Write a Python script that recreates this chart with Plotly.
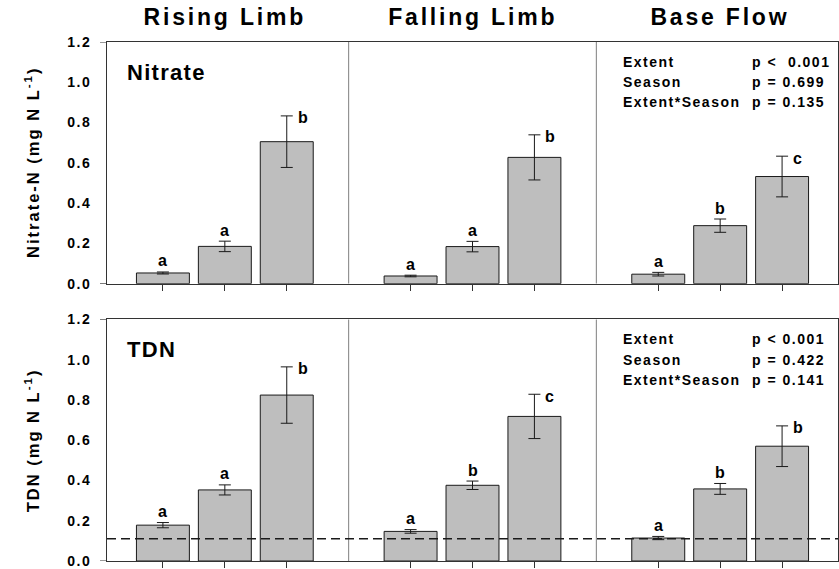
import plotly.graph_objects as go

# ---- data ----
groups = ["Rising Limb", "Falling Limb", "Base Flow"]
positions = [0, 1, 2, 4, 5, 6, 8, 9, 10]
group_centers = [1, 5, 9]
separators = [3, 7]

nitrate_mean = [0.053, 0.185, 0.705, 0.038, 0.184, 0.627, 0.047, 0.288, 0.532]
nitrate_err = [0.005, 0.026, 0.128, 0.004, 0.026, 0.112, 0.009, 0.033, 0.101]
nitrate_letters = ["a", "a", "b", "a", "a", "b", "a", "b", "c"]

tdn_mean = [0.178, 0.353, 0.824, 0.147, 0.376, 0.718, 0.114, 0.358, 0.570]
tdn_err = [0.013, 0.025, 0.140, 0.009, 0.021, 0.110, 0.008, 0.027, 0.101]
tdn_letters = ["a", "a", "b", "a", "b", "c", "a", "b", "b"]

tdn_reference = 0.111

nitrate_stats = [("Extent", "p <\u00a0\u00a00.001"), ("Season", "p = 0.699"), ("Extent*Season", "p = 0.135")]
tdn_stats = [("Extent", "p < 0.001"), ("Season", "p = 0.422"), ("Extent*Season", "p = 0.141")]
stat_rows_y = [1.10, 1.00, 0.90]

y_ticks = [0.0, 0.2, 0.4, 0.6, 0.8, 1.0, 1.2]

FONT = "Liberation Sans, Arial, sans-serif"
BAR = "#bebebe"
DARK = "#1a1a1a"
AX = "#333333"

fig = go.Figure()

panels = [
    ("x", "y", nitrate_mean, nitrate_err, nitrate_letters, nitrate_stats, "Nitrate", "y domain"),
    ("x2", "y2", tdn_mean, tdn_err, tdn_letters, tdn_stats, "TDN", "y2 domain"),
]

for xref, ya, mean, err, letters, stats, label, ydom in panels:
    fig.add_trace(go.Bar(
        x=positions, y=mean, xaxis=xref, yaxis=ya, width=0.855,
        marker=dict(color=BAR, line=dict(color=DARK, width=1)),
        error_y=dict(type="data", array=err, visible=True, color=DARK, thickness=1, width=6),
        showlegend=False, hoverinfo="skip",
    ))
    # significance letters
    for i, (p, m, e, L) in enumerate(zip(positions, mean, err, letters)):
        if i % 3 == 2:
            fig.add_annotation(x=p, y=m + e, xref=xref, yref=ya, text=L, showarrow=False,
                               xanchor="left", yanchor="middle", align="left", xshift=9, yshift=-2,
                               font=dict(family=FONT, size=16, color="black", weight="bold"))
        else:
            fig.add_annotation(x=p, y=m + e, xref=xref, yref=ya, text=L, showarrow=False,
                               xanchor="center", yanchor="middle", yshift=11,
                               font=dict(family=FONT, size=16, color="black", weight="bold"))
    # stats
    for (name, pv), yy in zip(stats, stat_rows_y):
        fig.add_annotation(x=7.4, y=yy, xref=xref, yref=ya, text=name, showarrow=False,
                           xanchor="left", yanchor="middle", align="left",
                           font=dict(family=FONT, size=14, color="black", weight="bold"))
        fig.add_annotation(x=9.48, y=yy, xref=xref, yref=ya, text=pv, showarrow=False,
                           xanchor="left", yanchor="middle", align="left",
                           font=dict(family=FONT, size=14, color="black", weight="bold"))
    # panel label
    fig.add_annotation(x=-0.62, y=1.05, xref=xref, yref=ya, text=label, showarrow=False,
                       xanchor="left", yanchor="middle", align="left",
                       font=dict(family=FONT, size=22, color="black", weight="bold"))
    # separators
    for s in separators:
        fig.add_shape(type="line", x0=s, x1=s, y0=0, y1=1.2, xref=xref, yref=ya,
                      line=dict(color="#7f7f7f", width=1))
    # short extensions of the bottom and top frame lines past the y axis
    for yv in (0, 1.2):
        fig.add_shape(type="line", x0=-7 / 732, x1=0, y0=yv, y1=yv, xref="paper", yref=ya,
                      line=dict(color=AX, width=1))

# dashed reference line (TDN)
fig.add_shape(type="line", x0=-0.903, x1=10.903, y0=tdn_reference, y1=tdn_reference,
              xref="x2", yref="y2", line=dict(color=DARK, width=1.5, dash="9px,5px"))

# column titles
for g, c in zip(groups, group_centers):
    fig.add_annotation(x=c, y=1.0477, xref="x", yref="paper", text=g, showarrow=False,
                       xanchor="center", yanchor="middle",
                       font=dict(family=FONT, size=23, color="black", weight="bold"))

# y-axis titles
fig.add_annotation(x=-0.1025, y=(1 + 0.5344) / 2, xref="paper", yref="paper",
                   text="Nitrate-N (mg N L<sup>-1</sup>)", textangle=-90, showarrow=False,
                   xanchor="center", yanchor="middle",
                   font=dict(family=FONT, size=16.5, color="black", weight="bold"))
fig.add_annotation(x=-0.1025, y=0.4656 / 2, xref="paper", yref="paper",
                   text="TDN (mg N L<sup>-1</sup>)", textangle=-90, showarrow=False,
                   xanchor="center", yanchor="middle",
                   font=dict(family=FONT, size=16.5, color="black", weight="bold"))

xaxis_common = dict(range=[-0.903, 10.903], tickvals=positions, showticklabels=False,
                    ticks="outside", ticklen=6, tickcolor=AX, showgrid=False, zeroline=False,
                    showline=True, linecolor=AX, linewidth=1, mirror=True)
yaxis_common = dict(range=[0, 1.2], tickvals=y_ticks, tickformat=".1f",
                    ticks="", showgrid=False, zeroline=False,
                    showline=True, linecolor=AX, linewidth=1, mirror=True,
                    ticklabelstandoff=12,
                    tickfont=dict(family=FONT, size=14, color="black", weight="bold"))

fig.update_layout(
    width=839, height=569,
    margin=dict(l=107, r=0, t=42, b=3),
    paper_bgcolor="white", plot_bgcolor="white",
    barmode="overlay",
    xaxis=dict(**xaxis_common, domain=[0, 1], anchor="y"),
    yaxis=dict(**yaxis_common, domain=[0.5344, 1], anchor="x"),
    xaxis2=dict(**xaxis_common, domain=[0, 1], anchor="y2"),
    yaxis2=dict(**yaxis_common, domain=[0, 0.4656], anchor="x2"),
)

# widened letter spacing, as in the original SigmaPlot figure
post_script = """
var gd = document.getElementById('{plot_id}');
var spacing = {'23': 2.8, '22': 1.3, '16.5': 2.0, '14': 1.5};
function applySpacing() {
  gd.querySelectorAll('text').forEach(function (t) {
    var fs = String(parseFloat(t.style.fontSize));
    if (spacing[fs] !== undefined) { t.style.letterSpacing = spacing[fs] + 'px'; }
  });
}
applySpacing();
if (gd.on) { gd.on('plotly_afterplot', applySpacing); }
"""

fig.write_html("out.html", post_script=post_script)
